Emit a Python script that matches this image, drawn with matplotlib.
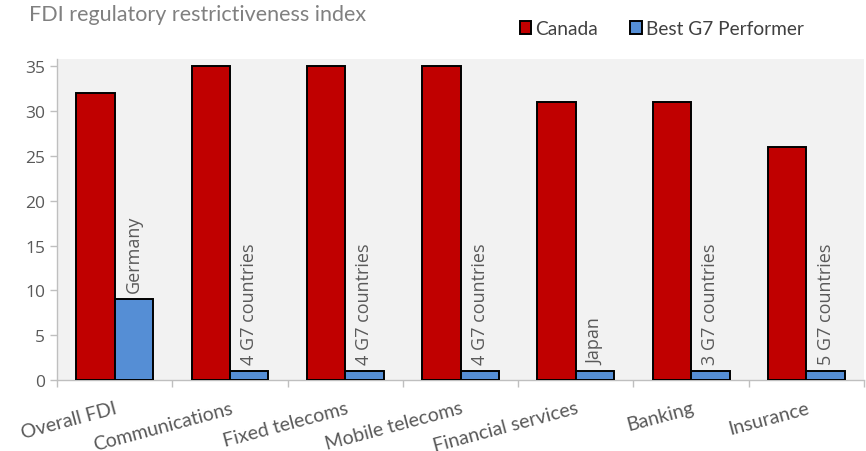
import matplotlib.pyplot as plt
import numpy as np

categories = ["Overall FDI", "Communications", "Fixed telecoms", "Mobile telecoms",
              "Financial services", "Banking", "Insurance"]
canada = [32, 35, 35, 35, 31, 31, 26]
best_g7 = [9, 1, 1, 1, 1, 1, 1]
best_labels = ["Germany", "4 G7 countries", "4 G7 countries", "4 G7 countries",
               "Japan", "3 G7 countries", "5 G7 countries"]

RED = "#C00000"
BLUE = "#558ED5"
GREY = "#595959"
AXIS = "#BFBFBF"

plt.rcParams["font.family"] = ["Open Sans", "DejaVu Sans"]

fig = plt.figure(figsize=(8.66, 4.52), dpi=100)
ax = fig.add_axes([0.0658, 0.157, 0.932, 0.71])
ax.set_facecolor("#F2F2F2")

x = np.arange(len(categories))
w = 1 / 3
ax.bar(x - w / 2, canada, w, color=RED, edgecolor="black", linewidth=1.4, label="Canada", zorder=3)
ax.bar(x + w / 2, best_g7, w, color=BLUE, edgecolor="black", linewidth=1.4, label="Best G7 Performer", zorder=3)

for xi, v, lab in zip(x, best_g7, best_labels):
    ax.annotate(lab, (xi + w / 2, v), xytext=(0, 5), textcoords="offset points",
                rotation=90, ha="center", va="bottom", fontsize=13, color=GREY)

ax.set_xlim(-0.5, len(categories) - 0.5)
ax.set_ylim(0, 35.8)
ax.set_yticks(range(0, 36, 5))
ax.tick_params(axis="y", colors=AXIS, labelcolor=GREY, labelsize=12.5, length=5, width=1)

ax.set_xticks(np.arange(-0.5, len(categories), 1))
ax.set_xticklabels([])
ax.tick_params(axis="x", colors=AXIS, length=5, width=1)
for xi, lab in zip(x, categories):
    ax.text(xi, -2.1, lab, rotation=15, rotation_mode="anchor", ha="right", va="top",
            fontsize=14, color=GREY, family=["Lato", "DejaVu Sans"])

for s in ["top", "right"]:
    ax.spines[s].set_visible(False)
for s in ["left", "bottom"]:
    ax.spines[s].set_color(AXIS)
    ax.spines[s].set_linewidth(1)

fig.text(0.033, 0.966, "FDI regulatory restrictiveness index", fontsize=15.5, color="#808080",
         va="center", ha="left", family=["Lato", "DejaVu Sans"])

leg = fig.legend(loc="center left", bbox_to_anchor=(0.6, 0.934), ncol=2, frameon=False,
                 handlelength=0.6, handleheight=0.6, handletextpad=0.2, borderpad=0,
                 borderaxespad=0, columnspacing=1.7,
                 prop={"family": ["Lato", "DejaVu Sans"], "size": 13.8})
for t in leg.get_texts():
    t.set_color("#404040")

fig.savefig("out.png", dpi=100)
